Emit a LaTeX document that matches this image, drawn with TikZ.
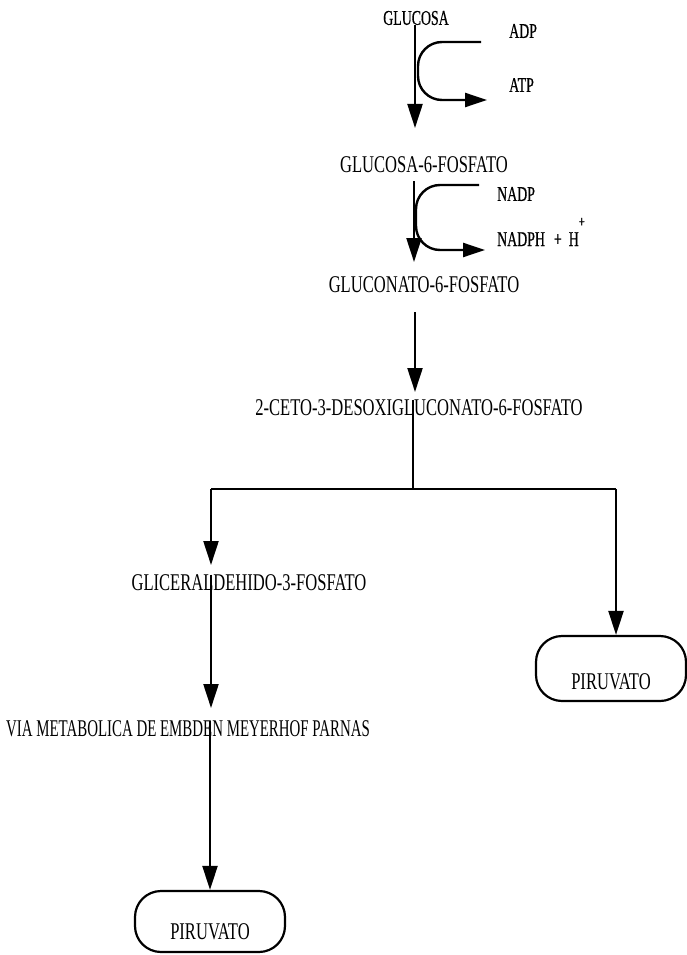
\documentclass[tikz,border=0pt]{standalone}
\usepackage{fontspec}
\setmainfont{Liberation Serif}[FakeStretch=0.69]
\newfontfamily\topfont{Liberation Serif}[FakeStretch=0.66,FakeBold=0.6]
\usetikzlibrary{arrows.meta}
\begin{document}
\begin{tikzpicture}[x=1pt,y=-1pt,
  lbl/.style={inner sep=0pt, font=\fontsize{24}{26}\selectfont},
  sm/.style={inner sep=0pt, font=\topfont\fontsize{21}{24}\selectfont},
  ln/.style={line width=2.2pt},
  arr/.style={line width=2.2pt, -{Triangle[length=24pt,width=15pt]}},
  carr/.style={line width=2.4pt, rounded corners=24pt, -{Triangle[length=22pt,width=14pt]}},
  term/.style={draw, line width=2.2pt, rounded corners=26pt, inner sep=0pt,
    minimum width=150pt, font=\fontsize{24}{26}\selectfont}]
\useasboundingbox (0,0) rectangle (686,955);

% texts
\node[sm] (glu) at (416,18) {GLUCOSA};
\node[sm, anchor=west] (adp) at (509,31) {ADP};
\node[sm, anchor=west] (atp) at (509,85) {ATP};
\node[lbl] (g6p) at (424,165) {GLUCOSA-6-FOSFATO};
\node[sm, anchor=west] (nadp) at (497,194) {NADP};
\node[sm, anchor=base west] (nadph) at (497,246) {NADPH\hspace{9pt}+\hspace{7pt}H\raisebox{19pt}{\fontsize{16}{16}\selectfont +}};
\node[lbl] (gluc) at (424,285) {GLUCONATO-6-FOSFATO};
\node[lbl] (ceto) at (419,408) {2-CETO-3-DESOXIGLUCONATO-6-FOSFATO};
\node[lbl] (gli) at (249,583) {GLICERALDEHIDO-3-FOSFATO};
\node[lbl] (via) at (188,729) {\scalebox{0.9}[1]{VIA METABOLICA DE EMBDEN MEYERHOF PARNAS}};
\node[term, anchor=base, text height=53pt, text depth=12pt] (pir1) at (611,689) {PIRUVATO};
\node[term, anchor=base, text height=48pt, text depth=13pt] (pir2) at (210,939) {PIRUVATO};

% coordinates
\coordinate (a1) at (415,128);
\coordinate (c1s) at (481,42);
\coordinate (c1e) at (487,100);
\coordinate (a2) at (414,262);
\coordinate (c2s) at (479,185);
\coordinate (c2e) at (485,250);
\coordinate (a3s) at (415,312);
\coordinate (a3) at (415,392);
\coordinate (br) at (413,489);
\coordinate (bl) at (211,489);
\coordinate (bR) at (616,489);
\coordinate (a4) at (211,565);
\coordinate (a5) at (211,708);

% connectors
\draw[arr] (glu.south -| a1) -- (a1);
\draw[carr] (c1s) -| (418,100) -- (c1e);
\draw[arr] (g6p.south -| a2) ++(0,8) -- (a2);
\draw[carr] (c2s) -| (416,250) -- (c2e);
\draw[arr] (a3s) -- (a3);
\draw[ln] (ceto.north -| br) -- (br);
\draw[ln] (bl) -- (bR);
\draw[arr] (bl) -- (a4);
\draw[arr] (bR) -- (pir1.north -| bR);
\draw[arr] (gli.north -| a5) -- (a5);
\draw[arr] (via.north -| pir2.north) -- (pir2.north);
\end{tikzpicture}
\end{document}
